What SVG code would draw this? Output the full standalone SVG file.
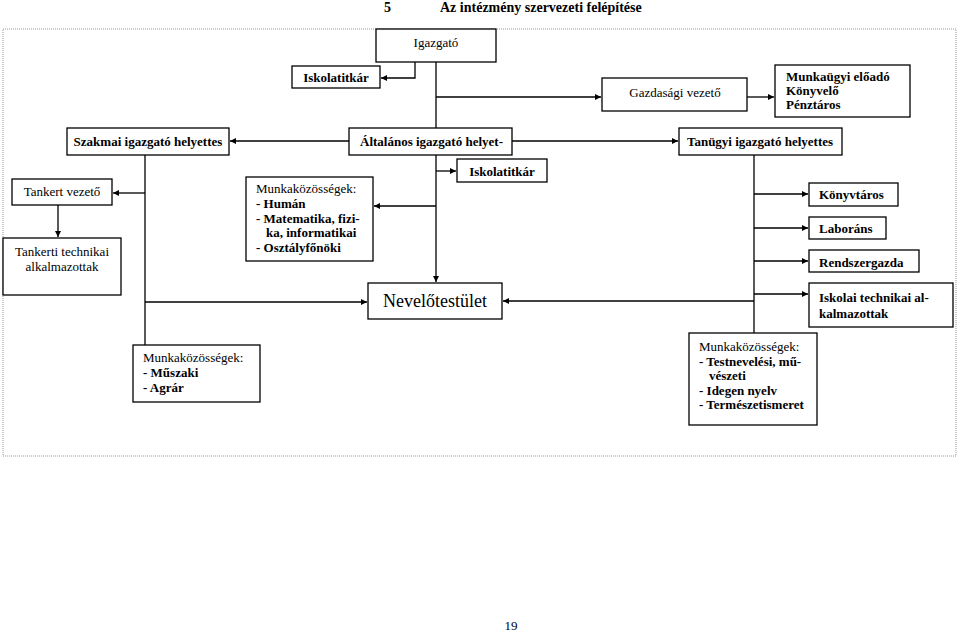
<svg xmlns="http://www.w3.org/2000/svg" width="959" height="634" viewBox="0 0 959 634">
<style>
text{font-family:"Liberation Serif","Times New Roman",serif;font-size:13px;fill:#000}
.b{font-weight:bold}
.c{text-anchor:middle}
rect{fill:#fff;stroke:#000;stroke-width:1.3}
.ln{fill:none;stroke:#000;stroke-width:1.3}
</style>
<defs>
<marker id="ah" viewBox="0 0 10 10" refX="10" refY="5" markerWidth="7" markerHeight="6" markerUnits="userSpaceOnUse" orient="auto">
<path d="M0,0 L10,5 L0,10 z" fill="#000"/>
</marker>
</defs>
<rect width="959" height="634" style="fill:#fff;stroke:none"/>
<text class="b" x="384" y="12" style="font-size:14px">5</text>
<text class="b" x="440" y="12" style="font-size:14px">Az intézmény szervezeti felépítése</text>
<rect x="3" y="29" width="953" height="427" style="fill:none;stroke:#999;stroke-width:1;stroke-dasharray:1,1"/>

<g id="connectors">
<path class="ln" d="M415,62 V78 H381" marker-end="url(#ah)"/>
<path class="ln" d="M436,62 V128"/>
<path class="ln" d="M436,97 H601" marker-end="url(#ah)"/>
<path class="ln" d="M747,97 H774" marker-end="url(#ah)"/>
<path class="ln" d="M349,141 H230" marker-end="url(#ah)"/>
<path class="ln" d="M512,141 H678" marker-end="url(#ah)"/>
<path class="ln" d="M145,155 V345"/>
<path class="ln" d="M145,193 H113" marker-end="url(#ah)"/>
<path class="ln" d="M58,205 V237" marker-end="url(#ah)"/>
<path class="ln" d="M145,302 H367" marker-end="url(#ah)"/>
<path class="ln" d="M436,155 V282" marker-end="url(#ah)"/>
<path class="ln" d="M436,171 H456" marker-end="url(#ah)"/>
<path class="ln" d="M436,206 H374" marker-end="url(#ah)"/>
<path class="ln" d="M754,155 V333"/>
<path class="ln" d="M754,194 H808" marker-end="url(#ah)"/>
<path class="ln" d="M754,228 H808" marker-end="url(#ah)"/>
<path class="ln" d="M754,261 H808" marker-end="url(#ah)"/>
<path class="ln" d="M754,294 H808" marker-end="url(#ah)"/>
<path class="ln" d="M754,301 H503" marker-end="url(#ah)"/>
</g>

<g id="igazgato"><rect x="376" y="29" width="120" height="33"/><text class="c" x="436" y="47">Igazgató</text></g>
<g id="iskolatitkar1"><rect x="292" y="66" width="88" height="22"/><text class="b c" x="336" y="82">Iskolatitkár</text></g>
<g id="gazdasagi"><rect x="602" y="78" width="145" height="33"/><text class="c" x="675" y="97">Gazdasági vezető</text></g>
<g id="munkaugyi"><rect x="775" y="65" width="135" height="52"/>
<text class="b" x="786" y="81">Munkaügyi előadó</text>
<text class="b" x="786" y="95">Könyvelő</text>
<text class="b" x="786" y="109">Pénztáros</text></g>
<g id="szakmai"><rect x="67" y="128" width="162" height="27"/><text class="b c" x="148" y="146">Szakmai igazgató helyettes</text></g>
<g id="altalanos"><rect x="349" y="128" width="163" height="27"/><text class="b" x="360" y="146">Általános igazgató helyet-</text></g>
<g id="tanugyi"><rect x="679" y="128" width="163" height="27"/><text class="b c" x="760" y="146">Tanügyi igazgató helyettes</text></g>
<g id="tankert"><rect x="12" y="179" width="100" height="26"/><text class="c" x="62" y="196">Tankert vezető</text></g>
<g id="tankerti"><rect x="3" y="238" width="118" height="57"/>
<text class="c" x="62" y="256">Tankerti technikai</text>
<text class="c" x="62" y="271">alkalmazottak</text></g>
<g id="iskolatitkar2"><rect x="457" y="159" width="90" height="23"/><text class="b c" x="502" y="176">Iskolatitkár</text></g>
<g id="mk1"><rect x="246" y="177" width="127" height="84"/>
<text x="256" y="193">Munkaközösségek:</text>
<text class="b" x="256" y="208">- Humán</text>
<text class="b" x="256" y="223">- Matematika, fizi-</text>
<text class="b" x="266" y="237">ka, informatikai</text>
<text class="b" x="256" y="252">- Osztályfőnöki</text></g>
<g id="nevelotestulet"><rect x="368" y="283" width="134" height="36"/><text class="c" x="435" y="307" style="font-size:18px">Nevelőtestület</text></g>
<g id="konyvtaros"><rect x="809" y="183" width="89" height="23"/><text class="b" x="819" y="199">Könyvtáros</text></g>
<g id="laborans"><rect x="809" y="217" width="77" height="22"/><text class="b" x="819" y="233">Laboráns</text></g>
<g id="rendszergazda"><rect x="809" y="250" width="110" height="22"/><text class="b" x="819" y="267">Rendszergazda</text></g>
<g id="iskolaitech"><rect x="809" y="283" width="144" height="44"/>
<text class="b" x="819" y="302">Iskolai technikai al-</text>
<text class="b" x="819" y="318">kalmazottak</text></g>
<g id="mk2"><rect x="133" y="345" width="127" height="57"/>
<text x="143" y="362">Munkaközösségek:</text>
<text class="b" x="143" y="377">- Műszaki</text>
<text class="b" x="143" y="392">- Agrár</text></g>
<g id="mk3"><rect x="689" y="333" width="128" height="92"/>
<text x="699" y="351">Munkaközösségek:</text>
<text class="b" x="699" y="366">- Testnevelési, mű-</text>
<text class="b" x="709" y="380">vészeti</text>
<text class="b" x="699" y="395">- Idegen nyelv</text>
<text class="b" x="699" y="409">- Természetismeret</text></g>
<text class="c" x="511" y="630">19</text>
</svg>
